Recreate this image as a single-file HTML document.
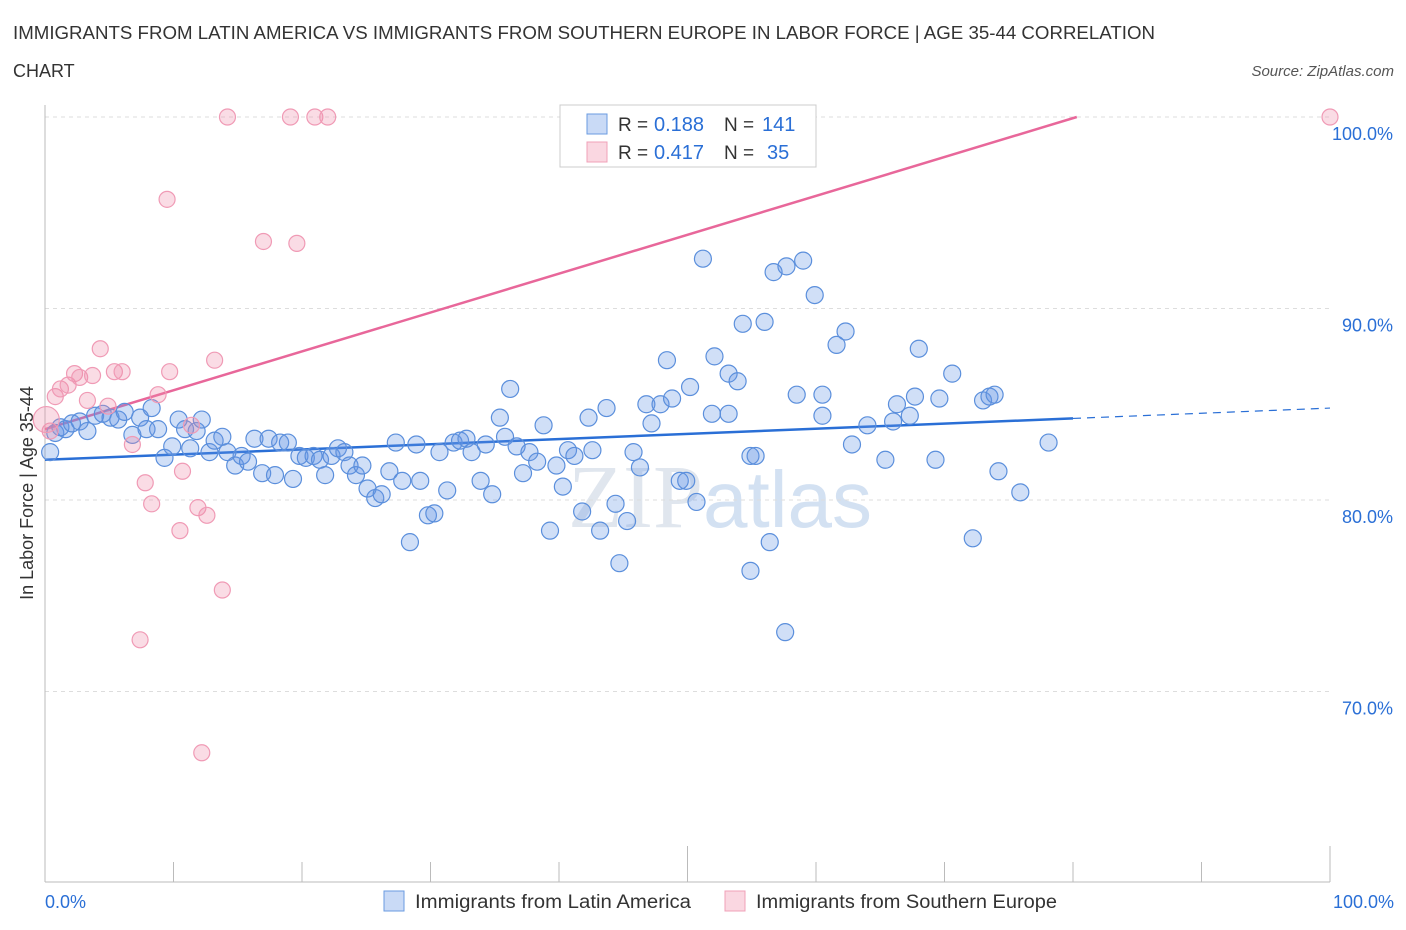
<!DOCTYPE html>
<html><head><meta charset="utf-8"><style>
body{margin:0;background:#fff;font-family:"Liberation Sans",sans-serif;}
svg{display:block}
</style></head><body>
<svg id="chart" width="1406" height="930" xmlns="http://www.w3.org/2000/svg">
<text x="13" y="39" font-size="18" fill="#333" textLength="1142" lengthAdjust="spacingAndGlyphs">IMMIGRANTS FROM LATIN AMERICA VS IMMIGRANTS FROM SOUTHERN EUROPE IN LABOR FORCE | AGE 35-44 CORRELATION</text>
<text x="13" y="77" font-size="18" fill="#333">CHART</text>
<text x="1394" y="76" font-size="15" fill="#555" font-style="italic" text-anchor="end">Source: ZipAtlas.com</text>
<text x="720" y="527" font-size="90" fill="#e0e6ee" text-anchor="middle" font-family="Liberation Serif, serif">ZIP<tspan fill="#d3e1f2" font-family="Liberation Sans, sans-serif" font-size="80">atlas</tspan></text>
<g id="grid"></g><g id="axes"></g>
<text transform="translate(33,493) rotate(-90)" font-size="18" fill="#333" text-anchor="middle">In Labor Force | Age 35-44</text>
<g id="lines"></g><g id="pts"></g>
<g>
<rect x="560" y="105" width="256" height="62" fill="#fff" stroke="#ccc"/>
<rect x="587" y="114" width="20" height="20" fill="rgba(100,150,230,0.35)" stroke="#6a9be0"/>
<text x="618" y="131" font-size="19" fill="#333">R =</text>
<text x="654" y="131" font-size="20" fill="#2a6fd6">0.188</text>
<text x="724" y="131" font-size="19" fill="#333">N =</text>
<text x="762" y="131" font-size="20" fill="#2a6fd6">141</text>
<rect x="587" y="142" width="20" height="20" fill="rgba(240,140,170,0.35)" stroke="#f0a0b8"/>
<text x="618" y="159" font-size="19" fill="#333">R =</text>
<text x="654" y="159" font-size="20" fill="#2a6fd6">0.417</text>
<text x="724" y="159" font-size="19" fill="#333">N =</text>
<text x="767" y="159" font-size="20" fill="#2a6fd6">35</text>
</g>
<g>
<rect x="384" y="891" width="20" height="20" fill="rgba(100,150,230,0.35)" stroke="#6a9be0"/>
<text x="415" y="908" font-size="19" fill="#333" textLength="276" lengthAdjust="spacingAndGlyphs">Immigrants from Latin America</text>
<rect x="725" y="891" width="20" height="20" fill="rgba(240,140,170,0.35)" stroke="#f0a0b8"/>
<text x="756" y="908" font-size="19" fill="#333" textLength="301" lengthAdjust="spacingAndGlyphs">Immigrants from Southern Europe</text>
</g>
</svg>
<script>
const blueX=[0.4,0.8,1.2,1.6,2.1,2.7,3.3,3.9,4.5,5.1,5.7,6.2,6.8,7.4,7.9,8.3,8.8,9.3,9.9,10.4,10.9,11.3,11.8,12.2,12.8,13.2,13.8,14.2,14.8,15.3,15.8,16.3,16.9,17.4,17.9,18.3,18.9,19.3,19.8,20.3,20.9,21.4,21.8,22.3,22.8,23.3,23.7,24.2,24.7,25.1,25.7,26.2,26.8,27.3,27.8,28.4,28.9,29.2,29.8,30.3,30.7,31.3,31.8,32.3,32.8,33.2,33.9,34.3,34.8,35.4,35.8,36.2,36.7,37.2,37.7,38.3,38.8,39.3,39.8,40.3,40.7,41.2,41.8,42.3,42.6,43.2,43.7,44.4,44.7,45.3,45.8,46.3,46.8,47.2,47.9,48.4,48.8,49.4,49.9,50.2,50.7,51.2,51.9,52.1,53.2,53.2,53.9,54.3,54.9,55.3,56.0,56.4,56.7,57.7,57.6,58.5,59.0,59.9,60.5,60.5,61.6,62.3,62.8,64.0,65.4,66.0,66.3,67.3,67.7,68.0,69.3,69.6,70.6,72.2,73.0,73.5,73.9,74.2,75.9,78.1,54.9];
const blueY=[82.5,83.5,83.8,83.7,84.0,84.1,83.6,84.4,84.5,84.3,84.2,84.6,83.4,84.3,83.7,84.8,83.7,82.2,82.8,84.2,83.7,82.7,83.6,84.2,82.5,83.1,83.3,82.5,81.8,82.3,82.0,83.2,81.4,83.2,81.3,83.0,83.0,81.1,82.3,82.2,82.3,82.1,81.3,82.3,82.7,82.5,81.8,81.3,81.8,80.6,80.1,80.3,81.5,83.0,81.0,77.8,82.9,81.0,79.2,79.3,82.5,80.5,83.0,83.1,83.2,82.5,81.0,82.9,80.3,84.3,83.3,85.8,82.8,81.4,82.5,82.0,83.9,78.4,81.8,80.7,82.6,82.3,79.4,84.3,82.6,78.4,84.8,79.8,76.7,78.9,82.5,81.7,85.0,84.0,85.0,87.3,85.3,81.0,81.0,85.9,79.9,92.6,84.5,87.5,84.5,86.6,86.2,89.2,82.3,82.3,89.3,77.8,91.9,92.2,73.1,85.5,92.5,90.7,85.5,84.4,88.1,88.8,82.9,83.9,82.1,84.1,85.0,84.4,85.4,87.9,82.1,85.3,86.6,78.0,85.2,85.4,85.5,81.5,80.4,83.0,76.3];
const pinkX=[0.4,0.8,1.2,1.8,2.3,2.7,3.3,3.7,4.3,4.9,5.4,6.0,6.8,7.8,8.3,8.8,9.5,9.7,10.5,10.7,11.4,11.9,12.6,13.2,13.8,12.2,7.4,14.2,17.0,19.1,19.6,21.0,22.0,100,0.1];
const pinkY=[83.6,85.4,85.8,86.0,86.6,86.4,85.2,86.5,87.9,84.9,86.7,86.7,82.9,80.9,79.8,85.5,95.7,86.7,78.4,81.5,83.9,79.6,79.2,87.3,75.3,66.8,72.7,100,93.5,100,93.4,100,100,100,84.2];
const blueTrend=[82.1,84.8];
const pinkTrend=[83.7,104.0];
const yTicks=[100,90,80,70];
const xTickLabels=["0.0%","100.0%"];
const NS="http://www.w3.org/2000/svg";
const sx=v=>45+v*12.85, sy=v=>117+(100-v)*19.15;
function mk(p,t,a){const e=document.createElementNS(NS,t);for(const k in a)e.setAttribute(k,a[k]);p.appendChild(e);return e;}
const g=document.getElementById('grid'),ax=document.getElementById('axes'),ln=document.getElementById('lines'),pt=document.getElementById('pts');
yTicks.forEach(t=>{const l=mk(g,'line',{x1:45,x2:1330,y1:sy(t),y2:sy(t),stroke:'#ddd','stroke-dasharray':'4,4'});


const tx=mk(g,'text',{x:1393,y:sy(t)+23,'font-size':18,fill:'#2a6fd6','text-anchor':'end'});tx.textContent=t.toFixed(1)+'%';

});
const ya=mk(ax,'line',{x1:45,x2:45,y1:105,y2:882,stroke:'#bbb'});


const xa=mk(ax,'line',{x1:45,x2:1330,y1:882,y2:882,stroke:'#bbb'});


for(let i=0;i<=10;i++){const x=sx(i*10);const t=mk(ax,'line',{x1:x,x2:x,y1:(i==5||i==10)?846:862,y2:882,stroke:'#bbb'});

}
[[0,'start',45],[1,'end',1394]].forEach(([i,a,x])=>{const t=mk(ax,'text',{x:x,y:908,'font-size':18,fill:'#2a6fd6','text-anchor':a});t.textContent=xTickLabels[i];

});
const bt=mk(ln,'line',{x1:sx(0),y1:sy(blueTrend[0]),x2:sx(80),y2:sy(blueTrend[0]+(blueTrend[1]-blueTrend[0])*0.8),stroke:'#2a6fd6','stroke-width':2.5});


const bd=mk(ln,'line',{x1:sx(80),y1:sy(blueTrend[0]+(blueTrend[1]-blueTrend[0])*0.8),x2:sx(100),y2:sy(blueTrend[1]),stroke:'#2a6fd6','stroke-width':1.2,'stroke-dasharray':'8,6'});


const pe=(100-pinkTrend[0])/(pinkTrend[1]-pinkTrend[0])*100;
const pl=mk(ln,'line',{x1:sx(0),y1:sy(pinkTrend[0]),x2:sx(pe),y2:sy(100),stroke:'#e8679a','stroke-width':2.5});


blueX.forEach((x,i)=>{const c=mk(pt,'circle',{cx:sx(x),cy:sy(blueY[i]),r:8.5,fill:'rgba(100,150,230,0.3)',stroke:'#5b8fdc','stroke-width':1.2});

});
pinkX.forEach((x,i)=>{const c=mk(pt,'circle',{cx:sx(x),cy:sy(pinkY[i]),r:i==34?13:8,fill:'rgba(240,140,170,0.3)',stroke:'#f09ab5','stroke-width':1.2});

});
</script>
</body></html>
